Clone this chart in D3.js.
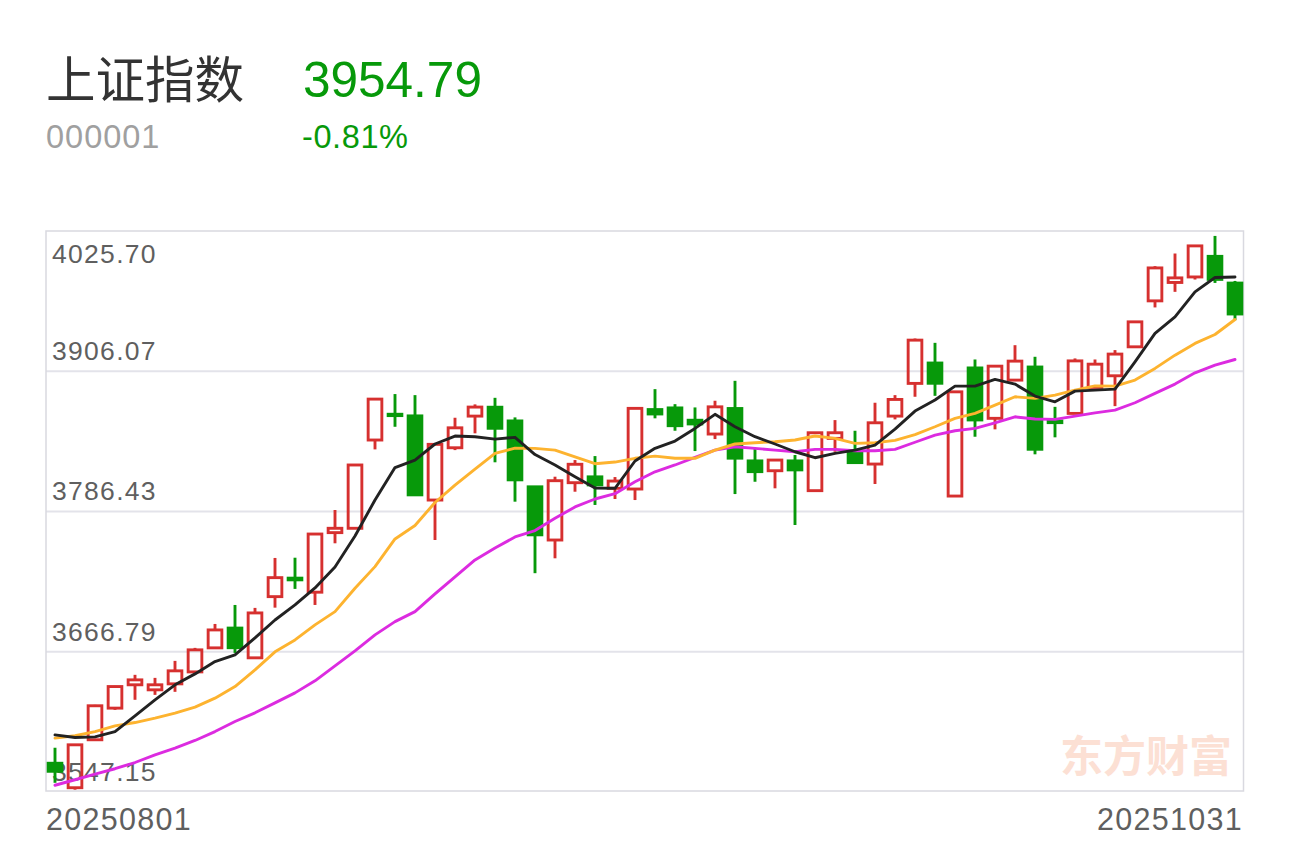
<!DOCTYPE html>
<html><head><meta charset="utf-8">
<script src="https://cdn.jsdelivr.net/npm/d3@7/dist/d3.min.js"></script>
<style>html,body{margin:0;padding:0;background:#fff;}svg{display:block;}</style>
</head><body>
<svg id="chart" width="1290" height="843"></svg>
<script>
const titleText = "上证指数";
const codeText = "000001";
const lastPriceText = "3954.79";
const changeText = "-0.81%";
const watermarkText = "东方财富";

const dates = ["20250801","20250804","20250805","20250806","20250807","20250808",
"20250811","20250812","20250813","20250814","20250815","20250818","20250819","20250820","20250821","20250822",
"20250825","20250826","20250827","20250828","20250829",
"20250901","20250902","20250903","20250904","20250905","20250908","20250909","20250910","20250911","20250912",
"20250915","20250916","20250917","20250918","20250919","20250922","20250923","20250924","20250925","20250926",
"20250929","20250930",
"20251009","20251010","20251013","20251014","20251015","20251016","20251017",
"20251020","20251021","20251022","20251023","20251024","20251027","20251028","20251029","20251030","20251031"];

const openV = [3571.8,3550.8,3591.7,3618.7,3638.6,3634.3,3639.4,3649.6,3670.1,3687.1,
3661.6,3713.8,3729.7,3717.6,3768.4,3772.1,3847.4,3869.5,3868.1,3796.2,
3840.8,3867.8,3875.5,3863.8,3807.6,3762.1,3811.0,3816.1,3806.2,3805.6,
3873.5,3874.9,3864.4,3852.5,3874.4,3829.7,3821.2,3829.7,3804.2,3848.8,
3837.4,3826.9,3867.8,3895.7,3913.2,3799.6,3909.0,3865.9,3898.5,3909.8,
3863.8,3870.1,3892.3,3902.2,3926.9,3966.1,3981.8,3986.5,4004.2,3981.4];

const highV = [3584.9,3588.0,3621.5,3637.7,3647.1,3644.5,3659.0,3670.1,3690.5,3706.7,
3704.2,3746.8,3747.0,3768.0,3787.7,3826.5,3883.0,3886.6,3885.7,3844.5,
3866.4,3877.8,3883.4,3866.7,3808.2,3816.1,3830.3,3833.7,3815.8,3875.0,
3890.8,3878.0,3875.2,3880.9,3897.9,3840.3,3830.8,3834.6,3854.2,3864.4,
3855.3,3879.2,3885.7,3934.0,3930.3,3889.2,3916.1,3911.0,3928.3,3918.4,
3875.7,3917.0,3916.1,3924.1,3948.8,3995.7,4006.5,4013.6,4021.5,3983.1];

const lowV = [3555.0,3549.1,3590.8,3617.2,3625.8,3630.0,3632.6,3648.8,3669.2,3665.8,
3660.7,3704.4,3720.4,3706.7,3759.3,3771.6,3839.4,3858.7,3800.0,3762.1,
3838.8,3853.1,3828.4,3794.8,3733.8,3746.5,3803.3,3792.0,3797.1,3796.2,
3865.9,3855.3,3838.0,3848.2,3801.3,3811.8,3806.2,3774.9,3803.6,3837.4,
3827.6,3809.9,3865.0,3884.3,3885.1,3799.2,3850.2,3856.5,3898.0,3835.2,
3849.7,3869.6,3891.8,3876.3,3926.4,3960.5,3973.8,3984.3,3981.4,3949.6];

const closeV = [3564.7,3587.4,3620.7,3637.1,3642.8,3638.6,3650.5,3668.4,3685.4,3670.1,
3699.9,3730.0,3728.0,3767.2,3772.1,3826.1,3882.3,3868.1,3800.5,3843.7,
3857.8,3875.5,3857.3,3813.3,3766.4,3812.7,3826.7,3809.0,3812.4,3874.4,
3869.5,3859.5,3861.0,3875.7,3831.8,3820.3,3830.3,3821.8,3853.6,3853.6,
3828.0,3862.1,3882.0,3932.6,3895.7,3888.5,3864.4,3910.4,3914.7,3839.4,
3862.1,3914.9,3912.1,3920.7,3948.2,3994.2,3985.7,4013.0,3984.3,3954.79];

const ma5 = [3595.9,3593.6,3594.2,3598.7,3612.1,3625.8,3638.6,3647.9,3658.4,3664.1,
3678.6,3693.9,3706.7,3721.2,3739.1,3765.5,3796.2,3823.9,3830.3,3844.0,
3850.8,3850.2,3848.2,3849.7,3835.0,3826.1,3816.1,3806.5,3806.2,3829.5,
3840.3,3846.5,3857.3,3869.3,3858.7,3850.2,3844.0,3837.4,3832.3,3836.0,
3838.8,3843.1,3856.7,3872.1,3881.5,3893.4,3893.4,3899.1,3895.1,3884.9,
3880.0,3889.1,3890.0,3890.8,3914.1,3938.3,3952.4,3973.8,3986.0,3986.5];

const ma10 = [3593.1,3595.1,3598.7,3603.6,3606.4,3610.2,3614.4,3619.5,3627.2,3637.1,
3651.3,3666.7,3676.9,3689.7,3701.0,3721.0,3739.4,3763.0,3774.5,3794.1,
3809.0,3822.6,3836.0,3840.5,3840.3,3838.8,3833.1,3827.2,3828.6,3831.8,
3833.7,3831.8,3831.8,3838.8,3844.0,3845.1,3845.9,3847.4,3850.8,3848.8,
3844.5,3845.1,3847.1,3852.0,3858.7,3865.9,3870.1,3877.2,3884.3,3882.9,
3885.7,3890.0,3893.6,3893.4,3898.5,3908.5,3919.8,3929.8,3937.4,3950.2];

const ma20 = [3552.9,3557.6,3562.4,3567.0,3572.3,3578.9,3584.6,3591.1,3598.7,3607.3,
3614.7,3623.2,3631.7,3642.0,3654.7,3667.5,3681.2,3692.5,3701.0,3716.1,
3730.6,3745.1,3755.3,3764.7,3770.2,3780.6,3790.3,3797.1,3801.6,3811.8,
3820.3,3826.1,3832.6,3838.8,3841.7,3840.3,3838.8,3837.4,3839.4,3839.4,
3838.2,3838.2,3839.4,3845.5,3851.6,3855.3,3857.3,3862.1,3867.2,3865.3,
3865.0,3867.8,3870.6,3872.9,3879.2,3887.2,3895.1,3904.7,3911.3,3916.1];

const yTicks = [4025.70, 3906.07, 3786.43, 3666.79, 3547.15];
const xTickLabels = [dates[0], dates[dates.length - 1]];

const RED = "#d6302f", GREEN = "#07990a";
const NUM_FONT = "'Liberation Sans','Noto Sans CJK SC',sans-serif";
const CJK_FONT = "'Noto Sans CJK SC','Liberation Sans',sans-serif";

const svg = d3.select("#chart");
const plot = {left: 46, right: 1243.5, top: 231, bottom: 791};

const x = d3.scaleBand().domain(d3.range(dates.length)).range([45, 1245])
  .paddingInner(0.17).paddingOuter(0.085);
const y = d3.scaleLinear().domain([yTicks[yTicks.length - 1], yTicks[0]]).range([792, 231]);
const cx = i => x(i) + x.bandwidth() / 2;
const bw = x.bandwidth();

// Header
svg.append("text").attr("x", 46).attr("y", 98).attr("font-family", CJK_FONT)
  .attr("font-size", 49.5).attr("fill", "#333").text(titleText);
svg.append("text").attr("x", 303).attr("y", 96.7).attr("font-family", NUM_FONT)
  .attr("font-size", 49.5).attr("fill", GREEN).text(lastPriceText);
svg.append("text").attr("x", 46).attr("y", 148.3).attr("font-family", NUM_FONT)
  .attr("font-size", 32.5).attr("letter-spacing", 1).attr("fill", "#a0a0a0").text(codeText);
svg.append("text").attr("x", 302).attr("y", 148.3).attr("font-family", NUM_FONT)
  .attr("font-size", 32.5).attr("letter-spacing", 0.6).attr("fill", GREEN).text(changeText);

// Watermark
svg.append("text").attr("x", 1232).attr("y", 772).attr("text-anchor", "end")
  .attr("font-family", CJK_FONT).attr("font-weight", 700).attr("font-size", 43)
  .attr("fill", "#fce0d4").text(watermarkText);

// Gridlines
svg.append("g").selectAll("line").data(yTicks.slice(1, -1)).join("line")
  .attr("x1", plot.left).attr("x2", plot.right)
  .attr("y1", d => y(d)).attr("y2", d => y(d))
  .attr("stroke", "#e3e3ea").attr("stroke-width", 2);

// Frame
svg.append("rect").attr("x", plot.left).attr("y", plot.top)
  .attr("width", plot.right - plot.left).attr("height", plot.bottom - plot.top)
  .attr("fill", "none").attr("stroke", "#d9d9e0").attr("stroke-width", 1.5);

// Y labels
svg.append("g").selectAll("text").data(yTicks).join("text")
  .attr("x", 52)
  .attr("y", (d, i) => i === 0 ? y(d) + 32 : y(d) - 11)
  .attr("font-family", NUM_FONT).attr("font-size", 26.5).attr("letter-spacing", 1.3)
  .attr("fill", "#5f5f5f").text(d => d.toFixed(2));

// X labels
svg.append("text").attr("x", 46).attr("y", 830).attr("font-family", NUM_FONT)
  .attr("font-size", 30.5).attr("letter-spacing", 1.3).attr("fill", "#5f5f5f").text(xTickLabels[0]);
svg.append("text").attr("x", 1243).attr("y", 830).attr("text-anchor", "end").attr("font-family", NUM_FONT)
  .attr("font-size", 30.5).attr("letter-spacing", 1.3).attr("fill", "#5f5f5f").text(xTickLabels[1]);

// Candles
const data = dates.map((d, i) => ({i, o: openV[i], h: highV[i], l: lowV[i], c: closeV[i]}));
const cg = svg.append("g");
const sw = 2.9;
data.forEach(d => {
  const up = d.c >= d.o;
  const top = y(Math.max(d.o, d.c)), bot = y(Math.min(d.o, d.c));
  const xc = cx(d.i);
  const g = cg.append("g");
  if (up) {
    if (y(d.h) < top - 0.5) g.append("line").attr("x1", xc).attr("x2", xc).attr("y1", y(d.h)).attr("y2", top)
      .attr("stroke", RED).attr("stroke-width", sw);
    if (y(d.l) > bot + 0.5) g.append("line").attr("x1", xc).attr("x2", xc).attr("y1", bot).attr("y2", y(d.l))
      .attr("stroke", RED).attr("stroke-width", sw);
    g.append("rect").attr("x", xc - (bw - sw) / 2).attr("y", top)
      .attr("width", bw - sw).attr("height", Math.max(bot - top, 1))
      .attr("fill", "none").attr("stroke", RED).attr("stroke-width", sw);
  } else {
    g.append("line").attr("x1", xc).attr("x2", xc).attr("y1", y(d.h)).attr("y2", y(d.l))
      .attr("stroke", GREEN).attr("stroke-width", sw);
    g.append("rect").attr("x", xc - bw / 2).attr("y", top - 1.3)
      .attr("width", bw).attr("height", Math.max(bot - top, 0) + 2.6)
      .attr("fill", GREEN);
  }
});

// Moving averages
const line = d3.line().x((d, i) => cx(i)).y(d => y(d));
[[ma20, "#dc2be0"], [ma10, "#fdb32f"], [ma5, "#222222"]].forEach(([arr, col]) => {
  svg.append("path").attr("d", line(arr)).attr("fill", "none")
    .attr("stroke", col).attr("stroke-width", 2.9)
    .attr("stroke-linejoin", "round").attr("stroke-linecap", "round");
});
</script>
</body></html>
